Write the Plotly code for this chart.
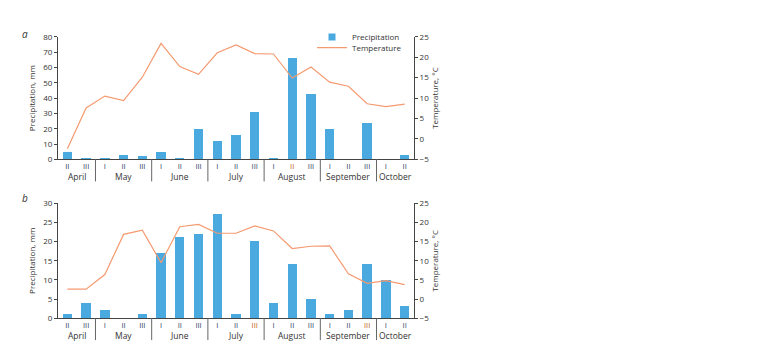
import plotly.graph_objects as go

decades = ["II", "III", "I", "II", "III", "I", "II", "III", "I", "II", "III",
           "I", "II", "III", "I", "II", "III", "I", "II"]
months = ["April", "May", "June", "July", "August", "September", "October"]
month_start = [0, 2, 5, 8, 11, 14, 17]
month_end = [1, 4, 7, 10, 13, 16, 18]

precip_a = [5, 1, 1, 3, 2, 5, 1, 20, 12, 16, 31, 0.7, 66.5, 42.5, 20, 0, 24, 0, 3]
temp_a = [-2.4, 7.6, 10.5, 9.4, 15.1, 23.4, 17.7, 15.8, 21.1, 23.0, 20.9,
          20.8, 14.9, 17.6, 13.9, 12.9, 8.6, 7.9, 8.5]
precip_b = [1, 4, 2, 0, 1, 17, 21, 22, 27, 1, 20, 4, 14, 5, 1, 2, 14, 10, 3]
temp_b = [2.6, 2.6, 6.4, 16.9, 18.0, 9.5, 18.9, 19.5, 17.2, 17.2, 19.1,
          17.8, 13.2, 13.8, 13.9, 6.6, 4.1, 4.8, 3.8]

highlight_a = [12]
highlight_b = [10, 16]

BAR = "#4aaae0"
LINE = "#f59a70"
TXT = "#333333"
DEC = "#2c3d60"
HL = "#c05a20"
FONT = "Open Sans"

idx = list(range(len(decades)))


def ticktext(hl):
    out = []
    for i, d in enumerate(decades):
        c = HL if i in hl else DEC
        out.append(f'<span style="color:{c}">{d}</span>')
    return out


fig = go.Figure()
fig.add_trace(go.Bar(x=idx, y=precip_a, marker=dict(color=BAR, line=dict(width=0)),
                     width=0.5, name="Precipitation", showlegend=False,
                     xaxis="x", yaxis="y"))
# legend entry for the bars (small square symbol, as in the original)
fig.add_trace(go.Scatter(x=[None], y=[None], mode="markers", name="Precipitation",
                         marker=dict(symbol="square", size=7, color=BAR),
                         xaxis="x", yaxis="y", legend="legend"))
fig.add_trace(go.Scatter(x=idx, y=temp_a, mode="lines", line=dict(color=LINE, width=1.2),
                         name="Temperature", xaxis="x", yaxis="y2", legend="legend2"))
fig.add_trace(go.Bar(x=idx, y=precip_b, marker=dict(color=BAR, line=dict(width=0)),
                     width=0.5, showlegend=False, xaxis="x2", yaxis="y3"))
fig.add_trace(go.Scatter(x=idx, y=temp_b, mode="lines", line=dict(color=LINE, width=1.2),
                         showlegend=False, xaxis="x2", yaxis="y4"))

W, H = 762, 353
xd = [58 / W, 414 / W]
yda = [1 - 158.3 / H, 1 - 31.8 / H]
ydb = [1 - 322.3 / H, 1 - 203.7 / H]

axfont = dict(family=FONT, size=8, color=TXT)
common_y = dict(showgrid=False, zeroline=False, showline=True, linecolor="#444",
                linewidth=1, ticks="outside", ticklen=3, tickcolor="#444",
                tickfont=axfont)
common_x = dict(showgrid=False, zeroline=False, showline=True, linecolor="#444",
                linewidth=1, ticks="", range=[-0.5, 18.5], tickmode="array",
                tickvals=idx, tickfont=dict(family=FONT, size=7.5, color=DEC))

legfont = dict(family=FONT, size=8, color=TXT)
fig.update_layout(
    width=W, height=H,
    margin=dict(l=0, r=0, t=0, b=0),
    paper_bgcolor="white", plot_bgcolor="white",
    bargap=0,
    font=dict(family=FONT, size=8, color=TXT),
    xaxis=dict(domain=xd, anchor="y", ticktext=ticktext(highlight_a), **common_x),
    yaxis=dict(domain=yda, anchor="x", range=[0, 80], dtick=10,
               title=dict(text="Precipitation, mm", font=axfont, standoff=6), **common_y),
    yaxis2=dict(overlaying="y", side="right", anchor="x", range=[-5, 25], dtick=5,
                title=dict(text="Temperature, °C", font=axfont, standoff=4), **common_y),
    xaxis2=dict(domain=xd, anchor="y3", ticktext=ticktext(highlight_b), **common_x),
    yaxis3=dict(domain=ydb, anchor="x2", range=[0, 30], dtick=5,
                title=dict(text="Precipitation, mm", font=axfont, standoff=6), **common_y),
    yaxis4=dict(overlaying="y3", side="right", anchor="x2", range=[-5, 25], dtick=5,
                title=dict(text="Temperature, °C", font=axfont, standoff=4), **common_y),
    legend=dict(x=312 / W, y=1 - 32 / H, xanchor="left", yanchor="middle",
                bgcolor="rgba(0,0,0,0)", font=legfont, itemwidth=30),
    legend2=dict(x=312 / W, y=1 - 43 / H, xanchor="left", yanchor="middle",
                 bgcolor="rgba(0,0,0,0)", font=legfont, itemwidth=30),
)

shapes = []
annotations = []
for xa, ya in (("x", "y"), ("x2", "y3")):
    for s in month_start[1:]:
        shapes.append(dict(type="line", xref=xa, yref=f"{ya} domain",
                           x0=s - 0.5, x1=s - 0.5, y0=0, y1=-0.18 if ya == "y" else -0.19,
                           line=dict(color="#666", width=1)))
    for m, s, e in zip(months, month_start, month_end):
        annotations.append(dict(text=m, xref=xa, yref=f"{ya} domain",
                                x=(s + e) / 2, y=-0.14 if ya == "y" else -0.15,
                                yanchor="middle", showarrow=False,
                                font=dict(family=FONT, size=8.5, color=TXT)))

annotations.append(dict(text="<i>a</i>", xref="paper", yref="paper", x=20 / W, y=1 - 29 / H,
                        xanchor="left", yanchor="middle", showarrow=False,
                        font=dict(family=FONT, size=10, color=TXT)))
annotations.append(dict(text="<i>b</i>", xref="paper", yref="paper", x=20 / W, y=1 - 198 / H,
                        xanchor="left", yanchor="middle", showarrow=False,
                        font=dict(family=FONT, size=10, color=TXT)))

fig.update_layout(shapes=shapes, annotations=annotations)
fig.write_html("out.html")
